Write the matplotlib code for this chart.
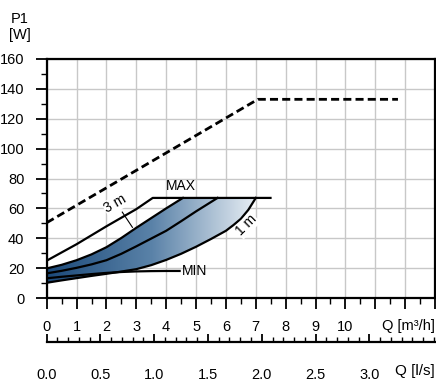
import numpy as np
import matplotlib
matplotlib.use('Agg')
import matplotlib.pyplot as plt
from matplotlib.patches import Polygon
from matplotlib.colors import LinearSegmentedColormap

plt.rcParams['font.family'] = ['Liberation Sans', 'DejaVu Sans']
plt.rcParams['font.size'] = 10

# P1 [W] against Q [m3/h]
dash_q = [0, 7.07, 11.76]
dash_p = [50.4, 133, 133]

max_q = [0, 1, 2, 3, 3.55, 7.53]
max_p = [25, 36, 48, 59.5, 67, 67]

# upper edge of the shaded band (3 m)
top_q = [0, 0.5, 1, 1.5, 2, 2.5, 3, 3.5, 4, 4.56]
top_p = [19.8, 22.2, 25.3, 29.2, 34, 40.2, 47, 53.5, 60, 67]

mid_q = [0, 0.5, 1, 1.5, 2, 2.5, 3, 3.5, 4, 4.5, 5, 5.4, 5.72]
mid_p = [16.5, 18.2, 20.2, 22.5, 25.3, 29.6, 34.6, 39.8, 45, 51.4, 58, 63, 67]

# lower edge of the shaded band (1 m)
bot_q = [0, 0.5, 1, 1.5, 2, 2.5, 3, 3.5, 4, 4.5, 5, 5.5, 6, 6.25, 6.5, 6.75, 7.0]
bot_p = [10.2, 11.8, 13.3, 14.8, 16.2, 17.7, 19.3, 22, 25.5, 29.6, 34.3, 39.5, 45,
         48.8, 53, 59, 67]

min_q = [0, 0.5, 1, 1.5, 2, 2.5, 3, 3.5, 4, 4.45]
min_p = [13.2, 14.2, 15.1, 16, 16.8, 17.4, 17.8, 18, 18.1, 18.1]

q_ticks = [0, 1, 2, 3, 4, 5, 6, 7, 8, 9, 10]
p_ticks = [0, 20, 40, 60, 80, 100, 120, 140, 160]
ls_ticks = [0.0, 0.5, 1.0, 1.5, 2.0, 2.5, 3.0]

W, H = 436, 387
fig = plt.figure(figsize=(W / 100, H / 100), dpi=100)
ax = fig.add_axes([46.7 / W, 1 - 298 / H, (435 - 46.7) / W, (298 - 59) / H])

# shaded band with horizontal gradient
cmap = LinearSegmentedColormap.from_list('band', ['#1c4a7a', '#5a82a8', '#e9eff5'])
grad = np.linspace(0, 1, 256).reshape(1, -1)
im = ax.imshow(grad, extent=[0, 7.0, 0, 70], aspect='auto', cmap=cmap,
               origin='lower', zorder=2, interpolation='bilinear')
poly_x = list(top_q) + [bot_q[-1]] + list(bot_q[::-1])
poly_y = list(top_p) + [bot_p[-1]] + list(bot_p[::-1])
band = Polygon(np.column_stack([poly_x, poly_y]), closed=True,
               facecolor='none', edgecolor='none', transform=ax.transData)
ax.add_patch(band)
im.set_clip_path(band)

lw = 1.6
ax.plot(dash_q, dash_p, color='black', lw=2, dashes=(2.9, 1.5), zorder=4)
ax.plot(max_q, max_p, color='black', lw=lw, zorder=4, solid_capstyle='butt')
ax.plot(top_q, top_p, color='black', lw=lw, zorder=4)
ax.plot(mid_q, mid_p, color='black', lw=lw, zorder=4)
ax.plot(bot_q, bot_p, color='black', lw=lw, zorder=4)
ax.plot(min_q, min_p, color='black', lw=lw, zorder=4)

# labels on curves
ax.text(4.5, 75, 'MAX', ha='center', va='center', zorder=5)
ax.text(4.52, 18.0, 'MIN', ha='left', va='center', zorder=5)
ax.text(2.3, 63, '3 m', ha='center', va='center', rotation=30, zorder=5,
        bbox=dict(facecolor='white', edgecolor='none', pad=0.5))
ax.plot([2.53, 2.87], [57.5, 47.3], color='black', lw=0.8, zorder=4)
ax.text(6.7, 48.6, '1 m', ha='center', va='center', rotation=45, zorder=5,
        bbox=dict(facecolor='white', edgecolor='none', pad=0.5))

ax.set_xlim(0, 13)
ax.set_ylim(0, 160)
ax.set_xticks(np.arange(0, 13.01, 1))
ax.set_xticks(np.arange(0, 13.01, 0.5), minor=True)
ax.set_xticklabels([str(t) if t in q_ticks else '' for t in range(14)])
ax.set_yticks(p_ticks)
ax.set_yticks(np.arange(0, 161, 10), minor=True)
ax.grid(True, which='major', color='#c8c8c8', lw=1, zorder=0)
ax.set_axisbelow(True)
for s in ax.spines.values():
    s.set_linewidth(1.6)
ax.tick_params(which='major', direction='out', length=8, width=1.3, labelsize=10.5)
ax.tick_params(which='minor', direction='out', length=4, width=1.0)
ax.tick_params(axis='y', which='major', pad=8)
ax.tick_params(axis='x', which='major', pad=8)

fig.text(435 / W, 1 - 326 / H, 'Q [m³/h]', ha='right', va='center', fontsize=10.5)
fig.text(20 / W, 1 - 27 / H, 'P1\n[W]', ha='center', va='center',
         linespacing=1.15, fontsize=10.5)

# second flow axis in l/s
ax2 = fig.add_axes([46.7 / W, 1 - 342 / H, (435 - 46.7) / W, 0.001])
ax2.set_xlim(0, 13 / 3.6)
ax2.set_ylim(0, 1)
ax2.set_yticks([])
for side in ['top', 'left', 'right']:
    ax2.spines[side].set_visible(False)
ax2.spines['bottom'].set_linewidth(1.6)
ax2.set_xticks(ls_ticks)
ax2.set_xticklabels(['%.1f' % t for t in ls_ticks])
ax2.set_xticks(np.arange(0, 3.61, 0.1), minor=True)
ax2.tick_params(which='major', direction='in', length=6, width=1.3, pad=19, labelsize=10.5)
ax2.tick_params(which='minor', direction='in', length=3.6, width=1.0)
fig.text(435 / W, 1 - 371 / H, 'Q [l/s]', ha='right', va='center', fontsize=11)

fig.savefig('out.png', dpi=100)
